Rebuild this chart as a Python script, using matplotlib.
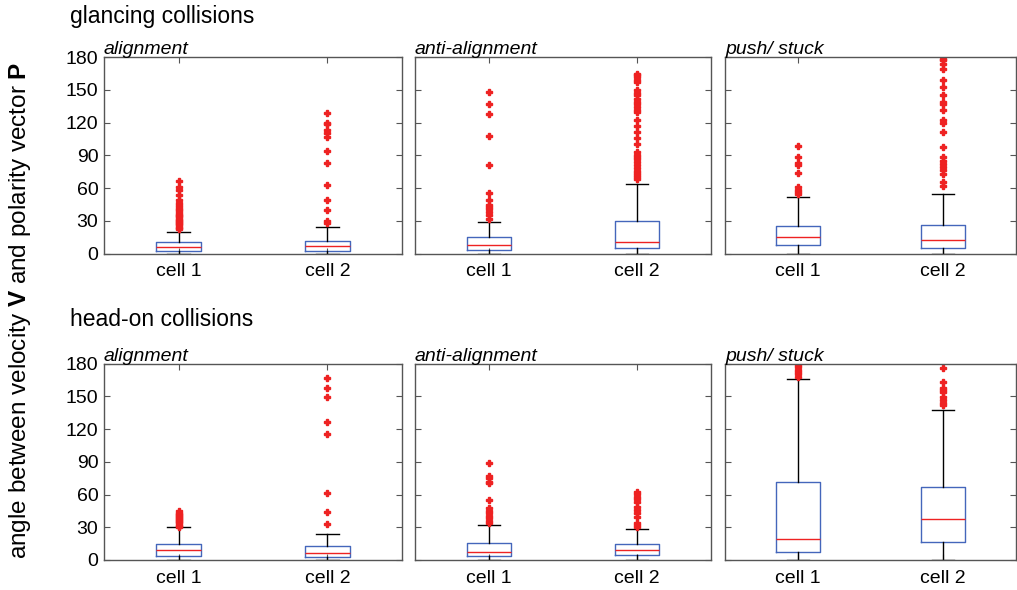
import matplotlib
matplotlib.use("Agg")
import matplotlib.pyplot as plt

plt.rcParams['font.family'] = ['Liberation Sans', 'DejaVu Sans']
plt.rcParams['mathtext.fontset'] = 'custom'
plt.rcParams['mathtext.bf'] = 'Liberation Sans:bold'

categories = ["cell 1", "cell 2"]
row_titles = ["glancing collisions", "head-on collisions"]
panel_titles = ["alignment", "anti-alignment", "push/ stuck"]
yticks = [0, 30, 60, 90, 120, 150, 180]

# box statistics per panel: (q1, median, q3, whisker_low, whisker_high)
glancing_alignment_c1 = (2.1, 6.1, 10.7, 0, 19.5)
glancing_alignment_c2 = (2.4, 6.7, 11.9, 0, 24.1)
glancing_anti_c1 = (3.4, 7.6, 15.0, 0, 29.3)
glancing_anti_c2 = (4.6, 10.4, 29.6, 0, 64.1)
glancing_push_c1 = (7.6, 14.9, 25.6, 0, 51.6)
glancing_push_c2 = (4.6, 12.8, 26.5, 0, 54.9)
headon_alignment_c1 = (3.7, 8.8, 14.6, 0, 29.9)
headon_alignment_c2 = (2.7, 6.1, 13.1, 0, 24.1)
headon_anti_c1 = (3.4, 7.0, 15.6, 0, 31.7)
headon_anti_c2 = (4.6, 8.8, 14.3, 0, 28.1)
headon_push_c1 = (7.3, 18.9, 71.1, 0, 165.7)
headon_push_c2 = (16.8, 37.2, 66.8, 0, 137.3)

# outliers
glancing_alignment_c1_out = [22, 23, 24.4, 25.9, 27, 28, 29, 30, 31, 32, 33, 34, 35, 36.5, 38.1, 40,
                             41.2, 42.7, 44, 46.4, 49.4, 53.4, 58, 61, 66.2]
glancing_alignment_c2_out = [27.5, 29.6, 39.4, 48.8, 62.5, 83, 93.7, 106.8, 110, 113, 119, 120, 129]
glancing_anti_c1_out = [32, 35, 38.1, 41.2, 42.7, 44.2, 48.8, 55.8, 80.8, 107.7, 127.8, 137, 147.6]
glancing_anti_c2_out = [68.6, 70, 71.7, 73.5, 75.4, 78.4, 80.8, 83.9, 86.9, 88.5, 90, 93, 100.7,
                        106.2, 111.3, 116.5, 122, 129.6, 131.8, 134.2, 136.7, 138.8, 141.9,
                        144.9, 147, 149.5, 157.1, 159.2, 161.7, 163.2, 164.7]
glancing_push_c1_out = [54.3, 56.4, 58.6, 61, 73.8, 81.5, 83, 88.5, 98.2]
glancing_push_c2_out = [61.9, 65.6, 73.2, 76.9, 79.3, 81.8, 84.8, 88.5, 97.6, 111.3, 119.6, 122,
                        131.2, 137.3, 138.8, 145.5, 152.5, 159.2, 169.3, 174, 177, 178.5]
headon_alignment_c1_out = [30.5, 31.5, 32.5, 33.5, 34.5, 35.5, 36.5, 37.5, 38.5, 39.5, 40.5, 41.5,
                           42.5, 43.5, 44.5]
headon_alignment_c2_out = [32.6, 44.2, 61.6, 115.3, 126, 148.9, 157.1, 166.3]
headon_anti_c1_out = [33.6, 35.7, 38.1, 40.6, 42.7, 44.8, 47.3, 54.6, 70.2, 71.7, 75.4, 76.9, 89]
headon_anti_c2_out = [29.9, 32, 34.2, 39.7, 42.7, 45.8, 48.8, 53.4, 55.5, 58, 60.4, 62.5]
headon_push_c1_out = [167.8, 170.2, 172.4, 174.5, 177, 178.5]
headon_push_c2_out = [141.9, 143.4, 146.4, 149.5, 154, 155.6, 157.1, 163.5, 176]

stats_grid = [
    [(glancing_alignment_c1, glancing_alignment_c1_out), (glancing_alignment_c2, glancing_alignment_c2_out)],
    [(glancing_anti_c1, glancing_anti_c1_out), (glancing_anti_c2, glancing_anti_c2_out)],
    [(glancing_push_c1, glancing_push_c1_out), (glancing_push_c2, glancing_push_c2_out)],
    [(headon_alignment_c1, headon_alignment_c1_out), (headon_alignment_c2, headon_alignment_c2_out)],
    [(headon_anti_c1, headon_anti_c1_out), (headon_anti_c2, headon_anti_c2_out)],
    [(headon_push_c1, headon_push_c1_out), (headon_push_c2, headon_push_c2_out)],
]

W, H = 1017, 590
fig = plt.figure(figsize=(W / 100, H / 100), dpi=100)

lefts = [104, 415, 725]
widths = [298, 296, 291]
tops = [57, 363.5]
height = 196.5

BLUE = "#4466bb"
RED = "#ee2222"
GRAY = "#555555"

for r in range(2):
    for c in range(3):
        ax = fig.add_axes([lefts[c] / W, 1 - (tops[r] + height) / H, widths[c] / W, height / H])
        entries = stats_grid[r * 3 + c]
        bstats = []
        for (q1, med, q3, lo, hi), out in entries:
            bstats.append(dict(q1=q1, med=med, q3=q3, whislo=lo, whishi=hi, fliers=out))
        ax.bxp(bstats, positions=[1, 2], widths=0.3, capwidths=0.15, showfliers=True,
               boxprops=dict(color=BLUE, linewidth=1.0),
               medianprops=dict(color=RED, linewidth=1.0),
               whiskerprops=dict(color="black", linewidth=1.0),
               capprops=dict(color="black", linewidth=1.0),
               flierprops=dict(marker='P', markersize=4.6, markerfacecolor=RED,
                               markeredgecolor=RED, linestyle='none'))
        ax.set_xlim(0.5, 2.5)
        ax.set_ylim(0, 180)
        ax.set_yticks(yticks)
        ax.set_xticks([1, 2])
        ax.set_xticklabels(categories, fontsize=14)
        if c == 0:
            ax.set_yticklabels([str(v) for v in yticks], fontsize=14)
        else:
            ax.set_yticklabels([])
        ax.tick_params(direction='in', length=4, width=0.8, color=GRAY, top=True, right=True,
                       pad=4)
        ax.tick_params(axis='x', pad=7)
        for s in ax.spines.values():
            s.set_color(GRAY)
            s.set_linewidth(1.0)
        ax.set_title(panel_titles[c], loc='left', fontsize=14, style='italic', pad=2)

fig.text(70 / W, 1 - 16 / H, row_titles[0], fontsize=16.5, ha='left', va='center')
fig.text(70 / W, 1 - 320 / H, row_titles[1], fontsize=16.5, ha='left', va='center')
fig.text(20 / W, 1 - 310 / H, r"angle between velocity $\mathbf{V}$ and polarity vector $\mathbf{P}$",
         rotation=90, fontsize=17.5, ha='center', va='center')

fig.savefig("out.png", dpi=100)
